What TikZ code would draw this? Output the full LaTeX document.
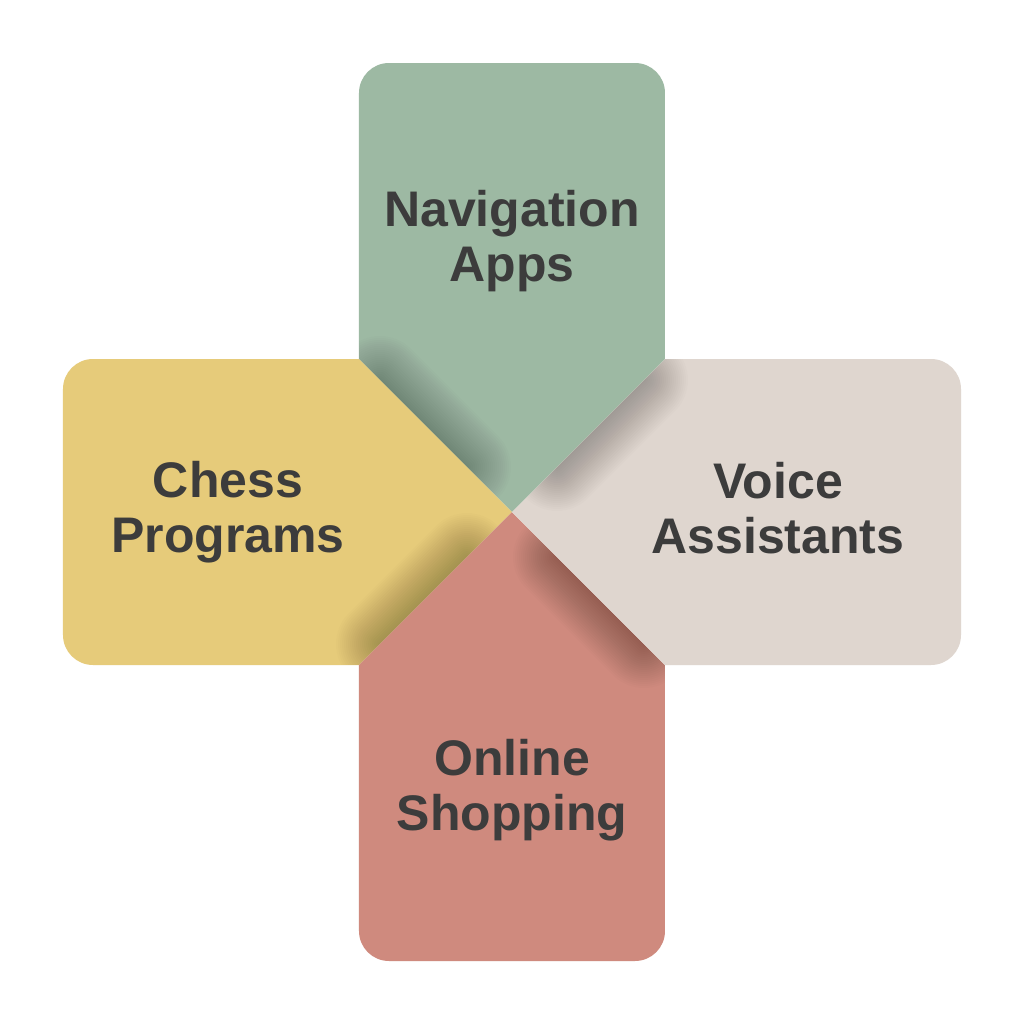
\documentclass[tikz,border=0pt]{standalone}
\usepackage{fontspec}
\setmainfont{Liberation Sans}
\definecolor{navg}{HTML}{9DB9A3}
\definecolor{chessy}{HTML}{E6CB7A}
\definecolor{shopr}{HTML}{CF8A7E}
\definecolor{voiceb}{HTML}{DFD6CF}
\definecolor{txt}{HTML}{3C3C3C}
\begin{document}
\begin{tikzpicture}[x=0.5pt,y=0.5pt,
  lbl/.style={font=\bfseries\fontsize{25}{27.5}\selectfont, text=txt, align=center},
  shade line/.style={black, opacity=0.011, line cap=round}]
\useasboundingbox (-512,-512) rectangle (512,512);
\fill[white] (-512,-512) rectangle (512,512);
\foreach \ang/\col in {0/navg,90/chessy,180/shopr,270/voiceb}{
  \begin{scope}[rotate=\ang]
    \fill[\col] (0,0) -- (-153,153) -- (-153,419)
      arc[start angle=180,end angle=90,radius=30] -- (123,449)
      arc[start angle=90,end angle=0,radius=30] -- (153,153) -- cycle;
    \begin{scope}
      \clip (0,0) -- (-153,153) -- (-153,449) -- (153,449) -- (153,153) -- cycle;
      \foreach \w in {2,4,...,44}{
        \draw[shade line, line width=\w pt] (-132,132) -- (-45,45);
      }
    \end{scope}
  \end{scope}
}
\node[lbl] (nav) at (0,271) {Navigation\\Apps};
\node[lbl] (chess) at (-284,0) {Chess\\Programs};
\node[lbl] (voice) at (266,4) {Voice\\Assistants};
\node[lbl] (shop) at (0,-278) {Online\\Shopping};
\end{tikzpicture}
\end{document}
